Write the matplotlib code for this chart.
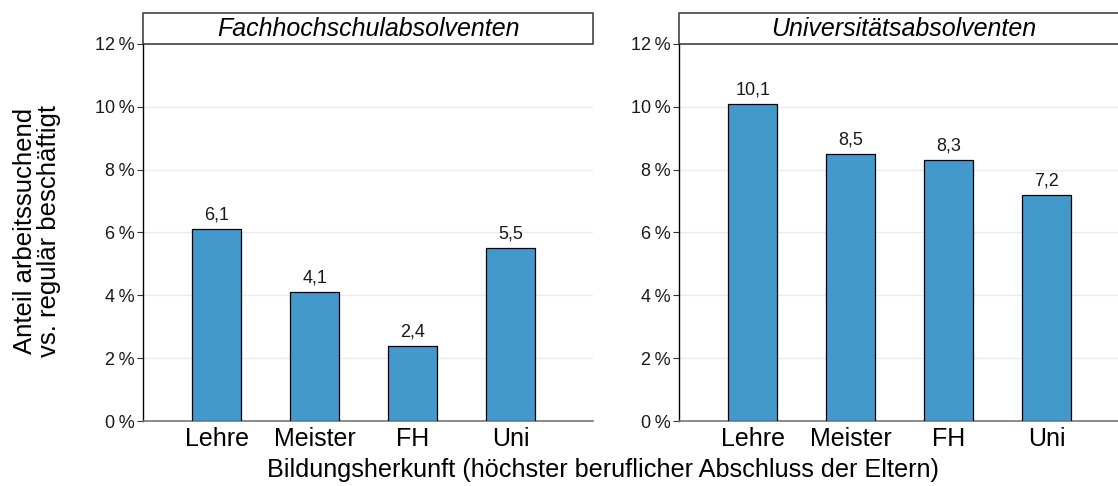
import matplotlib
matplotlib.use("Agg")
import matplotlib.pyplot as plt
from matplotlib.patches import Rectangle

plt.rcParams['font.family'] = ['Liberation Sans', 'DejaVu Sans']

# Daten
kategorien = ['Lehre', 'Meister', 'FH', 'Uni']
fh_werte = [6.1, 4.1, 2.4, 5.5]
uni_werte = [10.1, 8.5, 8.3, 7.2]
panel_titel = ['Fachhochschulabsolventen', 'Universitätsabsolventen']
y_ticks = [0, 2, 4, 6, 8, 10, 12]

W, H = 1118, 486
fig = plt.figure(figsize=(W / 100, H / 100), dpi=100)


def px_box(x0, y0, x1, y1):
    # Pixelkoordinaten (oben links) -> Figurenanteile
    return [x0 / W, (H - y1) / H, (x1 - x0) / W, (y1 - y0) / H]


# rechtes Panel reicht etwas über den Bildrand hinaus
panels = [
    (fh_werte, panel_titel[0], 143, 593),
    (uni_werte, panel_titel[1], 679, 1129),
]

for werte, titel, x0, x1 in panels:
    ax = fig.add_axes(px_box(x0, 44, x1, 421))
    pos = list(range(len(kategorien)))
    ax.bar(pos, werte, width=0.5, color='#4499cc', edgecolor='black',
           linewidth=0.9, zorder=3)
    for p, v in zip(pos, werte):
        ax.annotate(f'{v:.1f}'.replace('.', ','), (p, v), xytext=(0, 4),
                    textcoords='offset points', ha='center', va='bottom',
                    fontsize=13, color='#1a1a1a')
    ax.set_xlim(-0.755, 3.84)
    ax.set_ylim(0, 12)
    ax.set_yticks(y_ticks)
    ax.set_yticklabels([f'{t}\u2009%' for t in y_ticks], fontsize=13,
                       color='#1a1a1a')
    ax.set_xticks(pos)
    ax.set_xticklabels(kategorien, fontsize=18, color='black')
    ax.tick_params(axis='x', length=0, pad=4)
    ax.tick_params(axis='y', length=4, width=0.8, color='#333333', pad=2)
    ax.grid(axis='y', color='#ebebeb', linewidth=1, zorder=0)
    ax.set_axisbelow(True)
    for s in ['top', 'right']:
        ax.spines[s].set_visible(False)
    ax.spines['left'].set_color('black')
    ax.spines['left'].set_linewidth(1)
    ax.spines['bottom'].set_color('#777777')
    ax.spines['bottom'].set_linewidth(1.2)

    # Streifen mit Panel-Titel
    sax = fig.add_axes(px_box(x0, 13, x1, 44))
    sax.set_xlim(0, 1)
    sax.set_ylim(0, 1)
    sax.axis('off')
    sax.add_patch(Rectangle((0, 0), 1, 1, facecolor='white',
                            edgecolor='#333333', linewidth=1.1,
                            clip_on=False))
    sax.text(0.5, 0.5, titel, ha='center', va='center',
             fontsize=18, style='italic', color='black')

fig.text(37 / W, 1 - 231 / H, 'Anteil arbeitssuchend\nvs. regulär beschäftigt',
         rotation=90, ha='center', va='center', fontsize=18.5,
         linespacing=1.02)
fig.text(603 / W, 1 - 470 / H,
         'Bildungsherkunft (höchster beruflicher Abschluss der Eltern)',
         ha='center', va='center', fontsize=18.2)

fig.savefig('out.png', dpi=100)
